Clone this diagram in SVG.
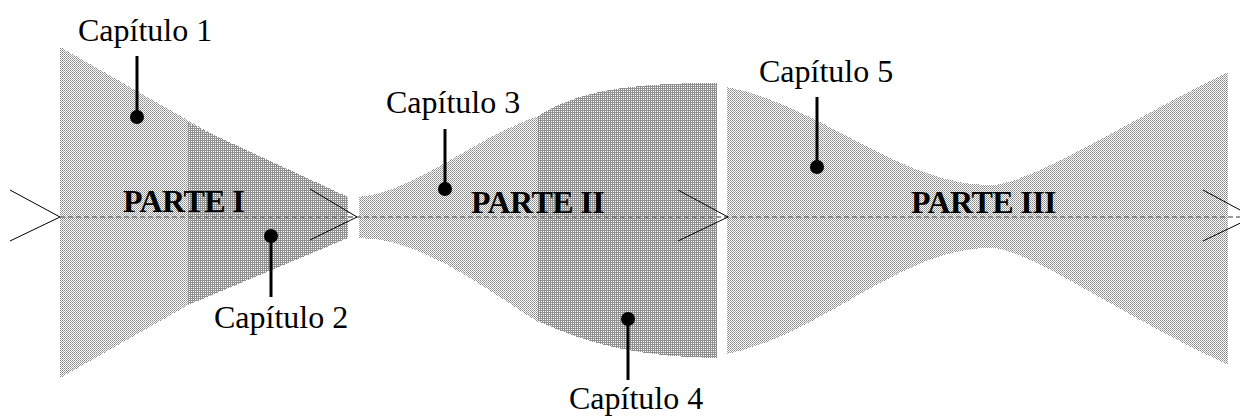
<svg xmlns="http://www.w3.org/2000/svg" width="1240" height="417" viewBox="0 0 1240 417">
  <style>
    .lbl { font-family: "Liberation Serif", "Times New Roman", serif; font-size: 32px; fill: #000; }
    .part { font-family: "Liberation Serif", "Times New Roman", serif; font-size: 32px; font-weight: bold; fill: #000; letter-spacing: -0.6px; }
    .light { fill: url(#lt); shape-rendering: crispEdges; }
    .dark { fill: url(#dk); shape-rendering: crispEdges; }
    .leader { stroke: #000; stroke-width: 3; fill: none; }
    .dot { fill: #000; }
    .axis { stroke: #777; stroke-width: 1.5; stroke-dasharray: 5 3; fill: none; }
    .chev { stroke: #000; stroke-width: 1; fill: none; }
  </style>
  <defs>
    <pattern id="lt" width="2" height="2" patternUnits="userSpaceOnUse">
      <rect width="2" height="2" fill="#fff"/>
      <rect width="1" height="1" fill="#888"/>
      <rect x="1" y="1" width="1" height="1" fill="#a4a4a4"/>
    </pattern>
    <pattern id="dk" width="2" height="2" patternUnits="userSpaceOnUse">
      <rect width="2" height="2" fill="#909090"/>
      <rect x="1" y="1" width="1" height="1" fill="#fff"/>
    </pattern>
  </defs>
  <rect width="1240" height="417" fill="#fff"/>

  <g id="capitulo-1">
    <polygon class="light" points="60,47 350,213 60,378"/>
    <line class="leader" x1="137" y1="56" x2="137" y2="117"/>
    <circle class="dot" cx="137" cy="117" r="7"/>
    <text class="lbl" x="78" y="41">Capítulo 1</text>
  </g>

  <g id="capitulo-2">
    <polygon class="dark" points="188,123 348,197 348,238 188,305"/>
    <line class="leader" x1="271" y1="236" x2="271" y2="297"/>
    <circle class="dot" cx="271" cy="236" r="7"/>
    <text class="lbl" x="214" y="328">Capítulo 2</text>
  </g>

  <g id="capitulo-3">
    <path class="light" d="M359,197 C415,192 470,140 538,116 L538,322 C480,285 420,238 359,238 Z"/>
    <line class="leader" x1="445" y1="129" x2="445" y2="189"/>
    <circle class="dot" cx="445" cy="189" r="7"/>
    <text class="lbl" x="386" y="113">Capítulo 3</text>
  </g>

  <g id="capitulo-4">
    <path class="dark" d="M538,116 C575,93 620,83 717,83 L717,358 C640,357 590,345 538,321 Z"/>
    <line class="leader" x1="628" y1="319" x2="628" y2="380"/>
    <circle class="dot" cx="628" cy="319" r="7"/>
    <text class="lbl" x="569" y="409">Capítulo 4</text>
  </g>

  <g id="capitulo-5">
    <path class="light" d="M727,87 C820,105 900,185 990,185 C1030,185 1120,125 1228,72 L1228,365 C1110,310 1030,248 990,248 C900,248 820,336 727,354 Z"/>
    <line class="leader" x1="817" y1="97" x2="817" y2="167"/>
    <circle class="dot" cx="817" cy="167" r="7"/>
    <text class="lbl" x="759" y="82">Capítulo 5</text>
  </g>

  <g id="connectors">
    <line class="axis" x1="60" y1="217" x2="1240" y2="217"/>
    <polyline class="chev" points="10,190 60,217 10,241"/>
    <polyline class="chev" points="310,189 357,217 310,240"/>
    <polyline class="chev" points="678,190 728,217 678,241"/>
    <polyline class="chev" points="1203,190 1253,217 1203,241"/>
  </g>

  <g id="parte-1">
    <text class="part" x="123" y="212">PARTE I</text>
  </g>
  <g id="parte-2">
    <text class="part" x="471" y="213">PARTE II</text>
  </g>
  <g id="parte-3">
    <text class="part" x="911" y="213">PARTE III</text>
  </g>
</svg>
